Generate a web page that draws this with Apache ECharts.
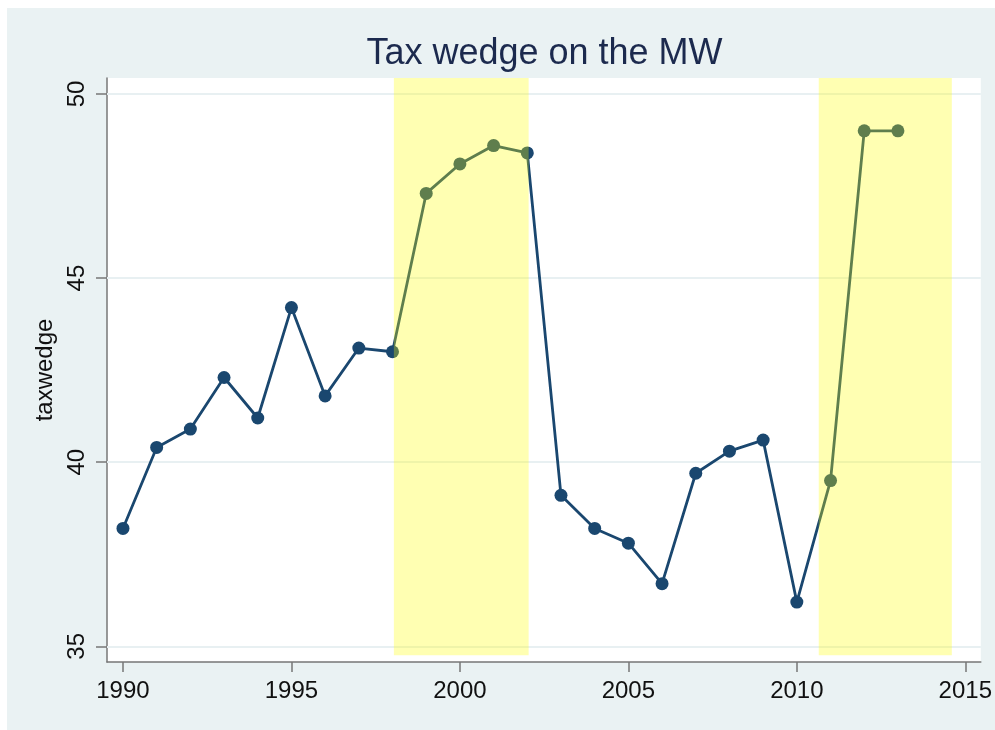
<!DOCTYPE html>
<html>
<head>
<meta charset="utf-8">
<script src="https://cdn.jsdelivr.net/npm/echarts@6/dist/echarts.min.js"></script>
<style>
  html, body { margin: 0; padding: 0; background: #fff; overflow: hidden; }
  #chart { position: absolute; left: 7px; top: 8px; right: 0; bottom: 0; }
</style>
</head>
<body>
<div id="chart"></div>
<script>
const years = [1990, 1991, 1992, 1993, 1994, 1995, 1996, 1997, 1998, 1999, 2000, 2001,
  2002, 2003, 2004, 2005, 2006, 2007, 2008, 2009, 2010, 2011, 2012, 2013]
const taxwedge = [38.2, 40.4, 40.9, 42.3, 41.2, 44.2, 41.8, 43.1, 43.0, 47.3, 48.1, 48.6,
  48.4, 39.1, 38.2, 37.8, 36.7, 39.7, 40.3, 40.6, 36.2, 39.5, 49.0, 49.0]
const yearTicks = [1990, 1995, 2000, 2005, 2010, 2015]
const valueTicks = [35, 40, 45, 50]
// shaded periods: [x from, x to, y from, y to]
const bands = [
  [1998.04, 2002.04, 34.755, 50.435],
  [2010.65, 2014.6, 34.755, 50.58]
]

const font = "'Liberation Sans', Arial, sans-serif"
const chart = echarts.init(document.getElementById('chart'))

chart.setOption({
  backgroundColor: '#eaf2f3',
  animation: false,
  graphic: [
    {
      type: 'text',
      x: 537.5,
      y: 46,
      style: {
        text: 'Tax wedge on the MW',
        font: '36px ' + font,
        fill: '#1c2a4e',
        textAlign: 'center',
        textVerticalAlign: 'middle'
      }
    }
  ],
  grid: {
    left: 100, top: 70, width: 875, height: 584,
    show: true, backgroundColor: '#fff', borderWidth: 0
  },
  xAxis: {
    type: 'value',
    min: 1989.526,
    max: 2015.46,
    axisLine: { show: true, lineStyle: { color: '#777', width: 1.5 } },
    axisTick: { show: true, length: 10, customValues: yearTicks, lineStyle: { color: '#777', width: 1.5 } },
    axisLabel: {
      customValues: yearTicks,
      formatter: (v) => String(v),
      color: '#111', fontSize: 24, fontFamily: font, margin: 17
    },
    splitLine: { show: false }
  },
  yAxis: {
    type: 'value',
    min: 34.573,
    max: 50.435,
    name: 'taxwedge',
    nameLocation: 'middle',
    nameRotate: 90,
    nameGap: 44,
    nameTextStyle: { color: '#111', fontSize: 24, fontFamily: font },
    axisLine: { show: true, lineStyle: { color: '#777', width: 1.5 } },
    axisTick: { show: true, length: 11, customValues: valueTicks, lineStyle: { color: '#777', width: 1.5 } },
    axisLabel: {
      customValues: valueTicks,
      rotate: 90,
      color: '#111', fontSize: 24, fontFamily: font, margin: 18
    },
    splitLine: { show: false }
  },
  series: [
    {
      // horizontal grid lines
      type: 'line',
      data: [],
      z: 1,
      silent: true,
      markLine: {
        silent: true,
        z: 1,
        symbol: ['none', 'none'],
        label: { show: false },
        lineStyle: { color: '#e8f0f2', width: 2, type: 'solid' },
        data: valueTicks.map((v) => ({ yAxis: v }))
      }
    },
    {
      type: 'line',
      z: 2,
      data: years.map((y, i) => [y, taxwedge[i]]),
      symbol: 'circle',
      symbolSize: 13,
      showAllSymbol: true,
      lineStyle: { color: '#1a476f', width: 2.8 },
      itemStyle: { color: '#1a476f' }
    },
    {
      // shaded periods, drawn over the line
      type: 'line',
      z: 10,
      data: [],
      clip: false,
      silent: true,
      markArea: {
        silent: true,
        z: 10,
        itemStyle: { color: 'rgba(255,255,0,0.3)' },
        data: bands.map((b) => [{ xAxis: b[0], yAxis: b[2] }, { xAxis: b[1], yAxis: b[3] }])
      }
    }
  ]
})
</script>
</body>
</html>
